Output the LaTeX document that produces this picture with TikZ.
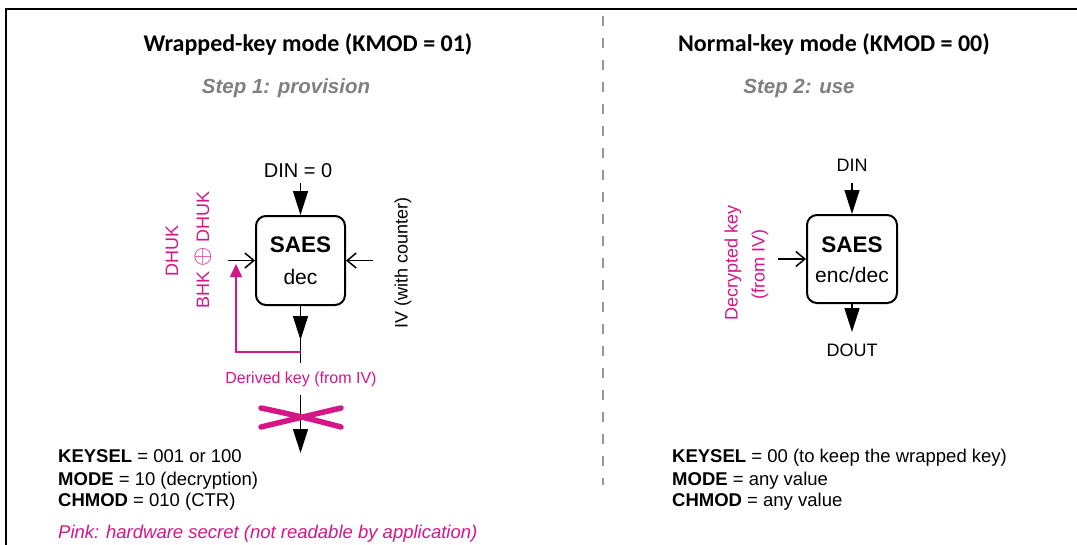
\documentclass[tikz,border=0pt]{standalone}
\usepackage{fontspec}
\setmainfont{Liberation Sans}
\newfontfamily\calibrifont{Carlito}
\usetikzlibrary{arrows.meta}
\definecolor{stpink}{RGB}{213,22,135}
\definecolor{stepgray}{RGB}{128,128,128}
\definecolor{dashgray}{RGB}{150,150,150}
\begin{document}
\begin{tikzpicture}[x=1pt,y=-1pt,
  fs/.style={font=\fontsize{#1}{#1}\selectfont},
  titletxt/.style={font=\calibrifont\bfseries\fontsize{24}{24}\selectfont, anchor=base, inner sep=0pt},
  steptxt/.style={font=\bfseries\itshape\fontsize{20.5}{20.5}\selectfont, text=stepgray, anchor=base, inner sep=0pt},
  saesbox/.style={draw, line width=2pt, rounded corners=10pt, inner sep=0pt},
  sig/.style={line width=1.5pt},
  bigtip/.style={-{Triangle[length=24pt,width=15pt]}},
  barb/.style={-{Straight Barb[length=9pt,width=15pt,line width=1.5pt]}},
  pinktip/.style={-{Triangle[length=13pt,width=12pt]}},
  paramtxt/.style={fs=18.5, anchor=base west, inner sep=0pt},
]
\useasboundingbox (0,0) rectangle (1077,544);

% frame
\draw[line width=2pt] (6,546) -- (6,9) -- (1079,9);
% separator
\draw[dashgray, line width=1.5pt, dash pattern=on 10pt off 12pt] (603,16) -- (603,485);

% titles
\node[titletxt] (t1) at (308,51) {Wrapped-key mode (KMOD = 01)};
\node[titletxt] (t2) at (834,51) {Normal-key mode (KMOD = 00)};
\node[steptxt] (s1) at (286,93) {Step 1: provision};
\node[steptxt] (s2) at (799,93) {Step 2: use};

% ---------- left block ----------
\node[saesbox, minimum width=89pt, minimum height=89pt] (boxL) at (300.5,260.5) {};
\node[font=\bfseries\fontsize{22.5}{22.5}\selectfont, inner sep=0pt] (saesL) at (300.5,245) {SAES};
\node[fs=21, inner sep=0pt] (decL) at (300.5,277) {dec};

\node[fs=20, anchor=base, inner sep=0pt] (dinL) at (298,177) {DIN = 0};
\coordinate (dinLs) at (300.5,183);
\draw[sig,bigtip] (dinLs) -- (boxL.north);

\coordinate (keyinL) at (228,260.5);
\draw[sig,barb] (keyinL) -- (boxL.west);
\coordinate (ivin) at (373,260.5);
\draw[sig,barb] (ivin) -- (boxL.east);

\coordinate (midtipL) at (300.5,340);
\coordinate (stubL) at (300.5,363);
\draw[sig] (boxL.south) -- (stubL);
\draw[sig,bigtip] (boxL.south) -- (midtipL);

\coordinate (junc) at (300.5,352);
\coordinate (cornerP) at (236,352);
\coordinate (ptip) at (236,264);
\draw[stpink, sig, pinktip] (junc) -- (cornerP) -- (ptip);

\node[fs=16, text=stpink, inner sep=0pt] (derived) at (301,379) {Derived key (from IV)};
\coordinate (outtopL) at (300.5,395);
\coordinate (outtipL) at (300.5,453);
\draw[sig,bigtip] (outtopL) -- (outtipL);

% pink cross
\draw[stpink, line width=5.5pt, line cap=round] (261,408) .. controls (290,414) and (315,420) .. (341,427);
\draw[stpink, line width=5.5pt, line cap=round] (261,427) .. controls (290,420) and (315,414) .. (341,408);

% rotated labels
\node[fs=18, text=stpink, rotate=90, inner sep=0pt] (dhuk) at (172,251) {DHUK};
\node[fs=18, text=stpink, rotate=90, inner sep=0pt] (bhk) at (203,250) {BHK {\fontsize{27}{27}\selectfont$\oplus$} DHUK};
\node[fs=18, rotate=90, inner sep=0pt] (ivlab) at (403,263) {IV (with counter)};

% parameters left
\node[paramtxt] (p1) at (58,462) {\textbf{KEYSEL} = 001 or 100};
\node[paramtxt] (p2) at (58,485) {\textbf{MODE} = 10 (decryption)};
\node[paramtxt] (p3) at (58,506) {\textbf{CHMOD} = 010 (CTR)};
\node[paramtxt, font=\itshape\fontsize{18.5}{18.5}\selectfont, text=stpink] (p4) at (58,538) {Pink: hardware secret (not readable by application)};

% ---------- right block ----------
\node[saesbox, minimum width=90pt, minimum height=88pt] (boxR) at (852,259) {};
\node[font=\bfseries\fontsize{22.5}{22.5}\selectfont, inner sep=0pt] (saesR) at (852,245) {SAES};
\node[fs=21, inner sep=0pt] (decR) at (852,275) {enc/dec};

\node[fs=18, anchor=base, inner sep=0pt] (dinR) at (852,171.5) {DIN};
\coordinate (dinRs) at (852,183);
\draw[sig,bigtip] (dinRs) -- (boxR.north);

\coordinate (keyinR) at (778,259);
\draw[sig,barb] (keyinR) -- (boxR.west);

\coordinate (douttip) at (852,332);
\draw[sig,bigtip] (boxR.south) -- (douttip);
\node[fs=18, inner sep=0pt] (dout) at (852,350) {DOUT};

\node[fs=18, text=stpink, rotate=90, inner sep=0pt] (deckey) at (733,263) {Decrypted key};
\node[fs=18, text=stpink, rotate=90, inner sep=0pt] (fromiv) at (760,264) {(from IV)};

% parameters right
\node[paramtxt] (q1) at (672,462) {\textbf{KEYSEL} = 00 (to keep the wrapped key)};
\node[paramtxt] (q2) at (672,485) {\textbf{MODE} = any value};
\node[paramtxt] (q3) at (672,506) {\textbf{CHMOD} = any value};
\end{tikzpicture}
\end{document}
